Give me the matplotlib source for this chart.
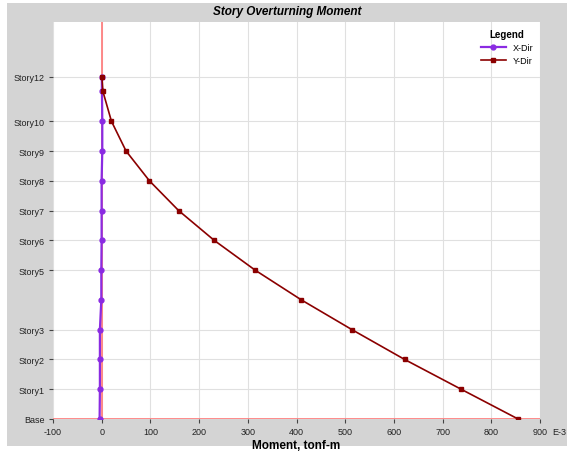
import matplotlib
matplotlib.use("Agg")
import matplotlib.pyplot as plt
from matplotlib.patches import Rectangle

plt.rcParams['font.family'] = ['Liberation Sans', 'DejaVu Sans']

stories = ["Base", "Story1", "Story2", "Story3", "Story4", "Story5", "Story6",
           "Story7", "Story8", "Story9", "Story10", "Story11", "Story12"]
elevations = [0, 3, 6, 9, 12, 15, 18, 21, 24, 27, 30, 33, 34.5]
labelled = ["Base", "Story1", "Story2", "Story3", "Story5", "Story6",
            "Story7", "Story8", "Story9", "Story10", "Story12"]
x_dir = [-4.3, -3.7, -3.7, -3.7, -0.8, -0.8, -0.2, -0.2, -0.2, 1.2, 1.2, 0.5, 0.3]
y_dir = [855, 738, 622, 514, 410, 315, 231, 158, 98, 50, 20, 2.5, 0.5]
x_ticks = [-100, 0, 100, 200, 300, 400, 500, 600, 700, 800, 900]

W, H = 573, 452
fig = plt.figure(figsize=(W / 100, H / 100), dpi=100)
fig.patch.set_facecolor("white")
fig.patches.append(Rectangle((7 / W, 1 - 447 / H), (567 - 7) / W, (447 - 4) / H,
                             transform=fig.transFigure, facecolor="#d4d4d4",
                             edgecolor="none", zorder=-10))

ax = fig.add_axes([53 / W, 1 - 420 / H, (540 - 53) / W, (420 - 23) / H])
ax.set_zorder(1)
ax.set_facecolor("white")
ax.set_xlim(-100, 900)
ax.set_ylim(0, 40)

ax.grid(True, color="#e0e0e0", linewidth=0.8)
ax.set_axisbelow(True)
for s in ax.spines.values():
    s.set_visible(False)

ax.axvline(0, color="#ff8080", linewidth=1.3, zorder=1)
ax.axhline(0, color="#ff8080", linewidth=2.0, zorder=1)

ax.plot(x_dir, elevations, color="#8a2be2", linewidth=1.6, marker="o",
        markersize=3.5, label="X-Dir", zorder=3)
ax.plot(y_dir, elevations, color="#8b0000", linewidth=1.2, marker="s",
        markersize=3.5, label="Y-Dir", zorder=4)

ytick_pos = [elevations[stories.index(s)] for s in labelled]
ax.set_yticks(ytick_pos)
ax.set_yticklabels(labelled, fontsize=6.5, color="#222222")
ax.set_xticks(x_ticks)
ax.set_xticklabels([str(v) for v in x_ticks], fontsize=6.5, color="#222222")
ax.tick_params(axis="both", direction="out", length=3, width=0.8,
               color="#444444", pad=3)

ax.text(1.0 + 12 / 487, -0.0205, "E-3", transform=ax.transAxes, fontsize=6.5,
        color="#222222", ha="left", va="top")

ax.set_xlabel("Moment, tonf-m", fontsize=8.5, fontweight="bold", labelpad=2)
fig.text(287 / W, 1 - 12 / H, "Story Overturning Moment", fontsize=8.5,
         fontweight="bold", fontstyle="italic", ha="center", va="center")

leg = ax.legend(loc="upper right", title="Legend", frameon=False, fontsize=6.5,
                handlelength=2.8, borderaxespad=0.3, labelspacing=0.45,
                bbox_to_anchor=(1.0, 0.998))
leg.get_title().set_fontweight("bold")
leg.get_title().set_fontsize(7)

fig.savefig("out.png", dpi=100, facecolor=fig.get_facecolor())
